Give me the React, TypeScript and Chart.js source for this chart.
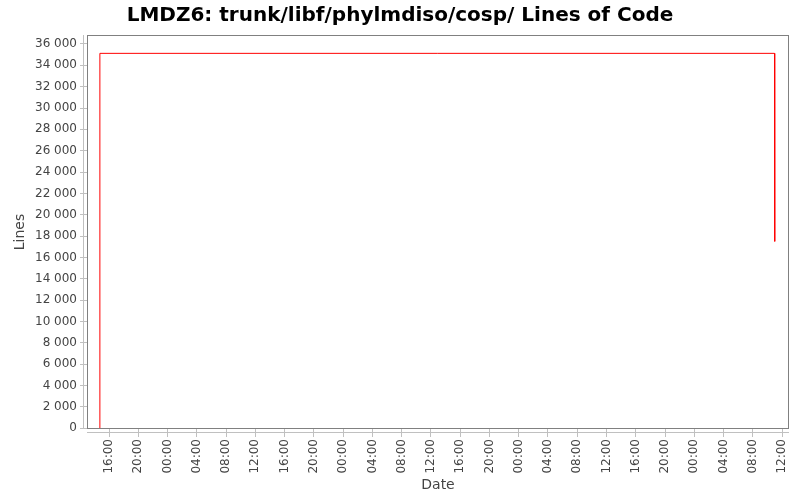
import { useEffect, useRef } from "react";
import { Chart, registerables } from "chart.js";

Chart.register(...registerables);

// hours counted from 00:00 of the first day
const pointHours = [14.73, 14.75, 106.97, 107.0];
const linesOfCode = [0, 35120, 35120, 17500];

const xTickHours = [16, 20, 24, 28, 32, 36, 40, 44, 48, 52, 56, 60, 64, 68, 72, 76, 80, 84, 88, 92, 96, 100, 104, 108];
const xTickLabels = [
  "16:00", "20:00", "00:00", "04:00", "08:00", "12:00",
  "16:00", "20:00", "00:00", "04:00", "08:00", "12:00",
  "16:00", "20:00", "00:00", "04:00", "08:00", "12:00",
  "16:00", "20:00", "00:00", "04:00", "08:00", "12:00",
];
const yTicks = [0, 2000, 4000, 6000, 8000, 10000, 12000, 14000, 16000, 18000, 20000, 22000, 24000, 26000, 28000, 30000, 32000, 34000, 36000];

const FONT = "'DejaVu Sans', sans-serif";
const TEXT = "#444444";

// plot border plus the detached axis lines, JFreeChart style
const framePlugin = {
  id: "frame",
  afterDraw(chart: any) {
    const { ctx, chartArea } = chart;
    const { left, right, top, bottom } = chartArea;
    ctx.save();
    ctx.strokeStyle = "#808080";
    ctx.lineWidth = 1;
    ctx.strokeRect(left + 0.5, top + 0.5, right - left - 1, bottom - top - 1);
    ctx.strokeStyle = "#c0c0c0";
    ctx.beginPath();
    ctx.moveTo(left - 3.5, top);
    ctx.lineTo(left - 3.5, bottom);
    ctx.moveTo(left, bottom + 3.5);
    ctx.lineTo(right, bottom + 3.5);
    ctx.stroke();
    ctx.restore();
  },
};

export default function App() {
  const canvasRef = useRef<HTMLCanvasElement>(null);

  useEffect(() => {
    if (!canvasRef.current) return;
    const chart = new Chart(canvasRef.current, {
      type: "line",
      data: {
        datasets: [
          {
            data: pointHours.map((h, i) => ({ x: h, y: linesOfCode[i] })),
            borderColor: "#ff0000",
            borderWidth: 1,
            pointRadius: 0,
            tension: 0,
            fill: false,
          },
        ],
      },
      options: {
        animation: false,
        responsive: false,
        devicePixelRatio: 1,
        layout: { padding: { left: 11, right: 11, top: 0, bottom: 0 } },
        plugins: {
          legend: { display: false },
          tooltip: { enabled: false },
          title: {
            display: true,
            text: "LMDZ6: trunk/libf/phylmdiso/cosp/ Lines of Code",
            color: "#000000",
            font: { family: FONT, size: 20, weight: "bold" },
            padding: { top: 4, bottom: 7 },
          },
        },
        scales: {
          x: {
            type: "linear",
            min: 12.99,
            max: 108.95,
            border: { display: false },
            grid: { display: true, drawOnChartArea: false, drawTicks: true, tickLength: 8, color: "#c0c0c0" },
            afterBuildTicks: (axis: any) => {
              axis.ticks = xTickHours.map((v) => ({ value: v }));
            },
            afterFit: (axis: any) => {
              axis.height = 71;
            },
            ticks: {
              autoSkip: false,
              minRotation: 90,
              maxRotation: 90,
              padding: 2,
              color: TEXT,
              font: { family: FONT, size: 12 },
              callback: (_v: any, i: number) => xTickLabels[i],
            },
            title: {
              display: true,
              text: "Date",
              color: TEXT,
              font: { family: FONT, size: 14 },
              padding: { top: 0, bottom: 6 },
            },
          },
          y: {
            type: "linear",
            min: -75,
            max: 36840,
            border: { display: false },
            grid: { display: true, drawOnChartArea: false, drawTicks: true, tickLength: 7, color: "#c0c0c0" },
            afterBuildTicks: (axis: any) => {
              axis.ticks = yTicks.map((v) => ({ value: v }));
            },
            afterFit: (axis: any) => {
              axis.width = 76;
            },
            ticks: {
              autoSkip: false,
              padding: 3,
              color: TEXT,
              font: { family: FONT, size: 12 },
              callback: (v: any) => String(v).replace(/\B(?=(\d{3})+(?!\d))/g, " "),
            },
            title: {
              display: true,
              text: "Lines",
              color: TEXT,
              font: { family: FONT, size: 14 },
              padding: { top: 1, bottom: 0 },
            },
          },
        },
      },
      plugins: [framePlugin],
    });
    return () => chart.destroy();
  }, []);

  return (
    <div style={{ position: "fixed", left: 0, top: 0, width: 800, height: 500, background: "#ffffff" }}>
      <canvas ref={canvasRef} width={800} height={500} />
    </div>
  );
}
